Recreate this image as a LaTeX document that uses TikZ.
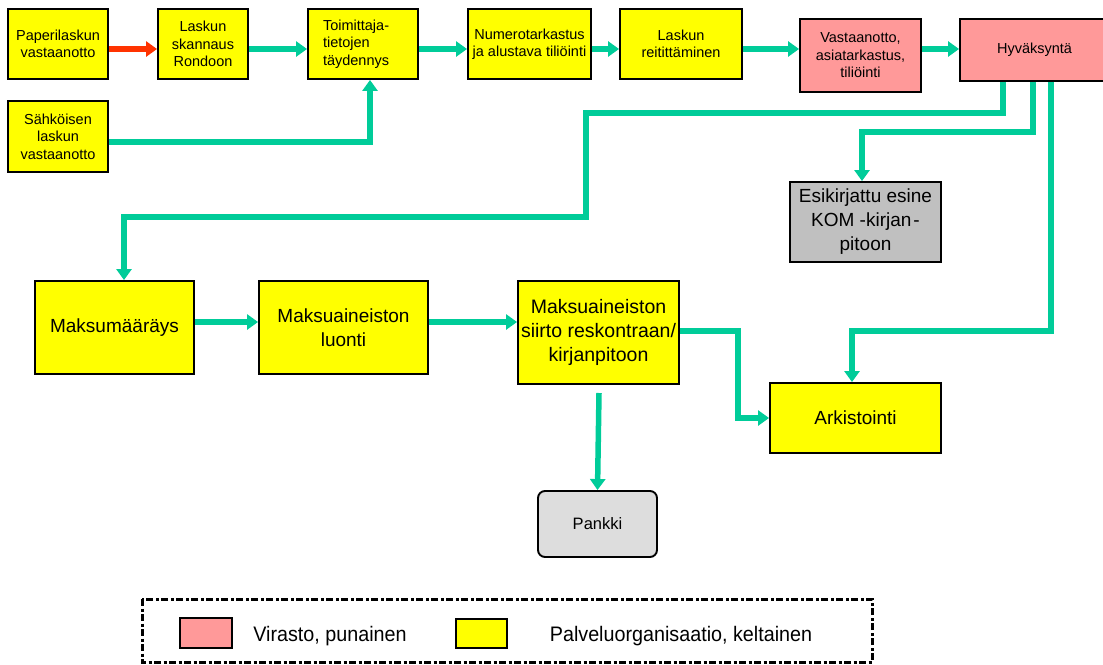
\documentclass[tikz,border=0pt]{standalone}
\usepackage{fontspec}
\setmainfont{Liberation Sans}
\usetikzlibrary{arrows.meta}

\definecolor{flow}{HTML}{00CC99}
\definecolor{paperflow}{HTML}{FF3300}
\definecolor{office}{HTML}{FF9999}
\definecolor{service}{HTML}{FFFF00}
\definecolor{ledger}{HTML}{C0C0C0}
\definecolor{bank}{HTML}{DDDDDD}

\begin{document}
\begin{tikzpicture}[x=1pt,y=-1pt,
  stepbox/.style={draw=black, line width=1.9pt, align=center, inner sep=0pt},
  smalltext/.style={font=\fontsize{14.5}{17.5}\selectfont},
  largetext/.style={font=\fontsize{19}{24}\selectfont},
  servicebox/.style={stepbox, fill=service},
  officebox/.style={stepbox, fill=office},
  flowline/.style={draw=flow, line width=5.5pt, -{Triangle[length=11pt,width=15pt]}},
  paperline/.style={flowline, draw=paperflow},
  legendframe/.style={draw=black, line width=3pt, dash pattern=on 7pt off 2.5pt on 3pt off 2.5pt},
  legendtext/.style={font=\fontsize{21}{24}\selectfont, inner sep=0pt}
]
\useasboundingbox (0,0) rectangle (1103,664);

% invoice intake and preprocessing
\node[servicebox, smalltext, minimum width=100, minimum height=70] (A) at (58,44)
  {Paperilaskun\\vastaanotto};
\node[servicebox, smalltext, minimum width=90, minimum height=70] (B) at (203,44)
  {Laskun\\skannaus\\Rondoon};
\node[servicebox, smalltext, minimum width=110, minimum height=70, text width=80, align=left] (C) at (363,44)
  {Toimittaja-\\tietojen\\täydennys};
\node[servicebox, smalltext, minimum width=123, minimum height=70] (D) at (529.5,44)
  {Numerotarkastus\\ja alustava tiliöinti};
\node[servicebox, smalltext, minimum width=122, minimum height=70] (E) at (681,44)
  {Laskun\\reitittäminen};
\node[officebox, smalltext, minimum width=121, minimum height=73] (F) at (860.5,55.5)
  {Vastaanotto,\\asiatarkastus,\\tiliöinti};
\node[officebox, smalltext, minimum width=149, minimum height=62] (G) at (1034.5,50)
  {Hyväksyntä};
\node[servicebox, smalltext, minimum width=100, minimum height=71] (H) at (58,136.5)
  {Sähköisen\\laskun\\vastaanotto};

% after approval
\node[stepbox, fill=ledger, largetext, minimum width=151, minimum height=80] (I) at (865.5,222)
  {Esikirjattu esine\\KOM -kirjan\kern2pt-\\pitoon};
\node[servicebox, largetext, minimum width=159, minimum height=93] (J) at (114.5,327.5)
  {Maksumääräys};
\node[servicebox, largetext, minimum width=169, minimum height=93] (K) at (343.5,327.5)
  {Maksuaineiston\\luonti};
\node[servicebox, font=\fontsize{19.5}{24}\selectfont, minimum width=161, minimum height=103] (L) at (598.5,332.5)
  {Maksuaineiston\\siirto reskontraan/\\kirjanpitoon};
\node[servicebox, largetext, minimum width=171, minimum height=70] (M) at (855.5,418)
  {Arkistointi};
\node[stepbox, fill=bank, rounded corners=7pt, font=\fontsize{16.5}{20}\selectfont, minimum width=119, minimum height=66] (N) at (597.5,524)
  {Pankki};

% routing points of the connectors
\coordinate (row) at (0,49);
\coordinate (hc) at (370,142);
\coordinate (g1) at (1003,0);
\coordinate (g2) at (1033,0);
\coordinate (g3) at (1051,0);
\coordinate (j1) at (124,0);
\coordinate (i1) at (862,0);
\coordinate (m1) at (852,0);
\coordinate (lm) at (738,331);
\coordinate (lp) at (599,393);

% top row flow
\draw[paperline] (A.east |- row) -- (B.west |- row);
\draw[flowline] (B.east |- row) -- (C.west |- row);
\draw[flowline] (C.east |- row) -- (D.west |- row);
\draw[flowline] (D.east |- row) -- (E.west |- row);
\draw[flowline] (E.east |- row) -- (F.west |- row);
\draw[flowline] (F.east |- row) -- (G.west |- row);
\draw[flowline] (H.east |- hc) -| (hc |- C.south);

% branches from approval
\draw[flowline] (g1 |- G.south) |- (586,113) |- (124,217) -- (j1 |- J.north);
\draw[flowline] (g2 |- G.south) |- (862,132) -- (i1 |- I.north);
\draw[flowline] (g3 |- G.south) |- (852,331) -- (m1 |- M.north);

% payment flow
\draw[flowline] (J.east |- 0,322) -- (K.west |- 0,322);
\draw[flowline] (K.east |- 0,322) -- (L.west |- 0,322);
\draw[flowline] (L.east |- lm) -- (lm) |- (M.west);
\draw[flowline] (lp) -- (N.north);

% legend
\draw[legendframe] (142,599) rectangle (872,662);
\node[officebox, minimum width=52, minimum height=30] (keyoffice) at (206,633) {};
\node[legendtext] (keyofficetext) at (330,636) {\scalebox{0.94}[1]{Virasto, punainen}};
\node[servicebox, minimum width=51, minimum height=29] (keyservice) at (481.5,633.5) {};
\node[legendtext] (keyservicetext) at (681,636) {\scalebox{0.94}[1]{Palveluorganisaatio, keltainen}};
\end{tikzpicture}
\end{document}
